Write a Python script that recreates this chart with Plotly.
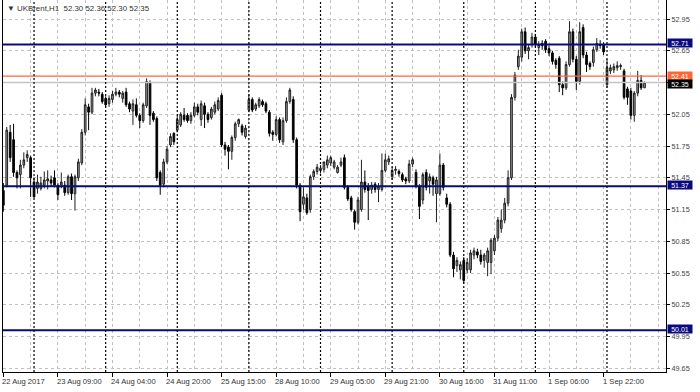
import plotly.graph_objects as go

# ---------------- data ----------------
OPEN = [
    51.33, 51.38, 51.88, 51.81, 51.50, 51.48, 51.57, 51.64, 51.64,
    51.41, 51.35, 51.35, 51.38, 51.42, 51.43, 51.45, 51.38, 51.38, 51.38, 51.31, 51.46, 51.30, 51.45, 51.59, 51.88, 52.12, 52.07, 52.25, 52.26, 52.24,
    52.20, 52.15, 52.19, 52.24, 52.26, 52.20, 52.26, 52.15, 52.08, 52.14, 52.04, 51.99, 52.13, 52.35, 52.06, 52.01, 51.50, 51.39, 51.60, 51.76, 51.87,
    51.90, 51.95, 52.04, 52.04, 51.99, 52.04, 52.12, 52.00, 52.13, 52.05, 52.02, 52.07, 52.10, 52.23, 51.76, 51.74, 51.70, 51.83, 51.96, 51.94, 51.84,
    52.09, 52.19, 52.10, 52.13, 52.17, 52.15, 52.07, 51.88, 51.86, 52.00, 51.79, 51.99, 52.17, 52.19, 51.81, 51.38, 51.20, 51.26, 51.15, 51.46, 51.51,
    51.52, 51.53, 51.57, 51.59, 51.55, 51.50, 51.57, 51.64, 51.36, 51.26, 51.13, 51.03, 51.15, 51.41, 51.37, 51.34, 51.39, 51.34, 51.34, 51.52, 51.60,
    51.46, 51.52, 51.51, 51.48, 51.44, 51.42, 51.58, 51.50, 51.37, 51.24, 51.50, 51.42, 51.45, 51.30, 51.30, 51.57, 51.26, 51.20, 50.72, 50.62, 50.58,
    50.67, 50.58, 50.58, 50.72, 50.75, 50.72, 50.67, 50.65, 50.65, 50.76, 50.88, 50.97, 51.05, 51.21, 51.45, 52.21, 52.50, 52.59, 52.83, 52.65, 52.71,
    52.78, 52.68, 52.72, 52.74, 52.67, 52.63, 52.56, 52.58, 52.33, 52.30, 52.52, 52.83, 52.57, 52.36, 52.87, 52.61, 52.53, 52.54, 52.66, 52.71, 52.71,
    52.33, 52.46, 52.47, 52.49, 52.50, 52.46, 52.29, 52.27, 52.04, 52.25, 52.37, 52.30,
]
HIGH = [
    51.40, 51.93, 51.95, 51.96, 51.52, 51.62, 51.69, 51.71, 51.66,
    51.45, 51.48, 51.46, 51.51, 51.52, 51.47, 51.52, 51.40, 51.50, 51.42, 51.48, 51.49, 51.48, 51.63, 51.91, 52.20, 52.15, 52.30, 52.30, 52.29, 52.26,
    52.22, 52.23, 52.27, 52.30, 52.28, 52.27, 52.30, 52.17, 52.19, 52.20, 52.06, 52.16, 52.39, 52.37, 52.08, 52.03, 51.52, 51.63, 51.75, 51.87, 51.88,
    52.04, 52.07, 52.11, 52.06, 52.07, 52.16, 52.15, 52.18, 52.16, 52.07, 52.12, 52.17, 52.21, 52.25, 51.79, 51.76, 51.85, 51.98, 52.01, 51.96, 51.95,
    52.24, 52.21, 52.16, 52.21, 52.19, 52.17, 52.09, 51.90, 52.03, 52.02, 52.02, 52.21, 52.30, 52.22, 51.83, 51.40, 51.36, 51.30, 51.48, 51.53, 51.58,
    51.57, 51.59, 51.66, 51.66, 51.62, 51.57, 51.64, 51.67, 51.38, 51.28, 51.15, 51.27, 51.62, 51.52, 51.40, 51.41, 51.41, 51.40, 51.68, 51.68, 51.66,
    51.55, 51.56, 51.53, 51.50, 51.46, 51.62, 51.64, 51.53, 51.39, 51.50, 51.53, 51.49, 51.47, 51.46, 51.68, 51.59, 51.30, 51.22, 50.75, 50.70, 50.66,
    50.70, 50.69, 50.77, 50.79, 50.78, 50.77, 50.74, 50.79, 50.88, 50.91, 51.08, 51.15, 51.26, 51.52, 52.24, 52.45, 52.66, 52.86, 52.87, 52.71, 52.82,
    52.81, 52.74, 52.75, 52.76, 52.70, 52.65, 52.58, 52.60, 52.36, 52.55, 52.93, 52.86, 52.60, 52.92, 52.90, 52.64, 52.55, 52.69, 52.77, 52.75, 52.73,
    52.57, 52.52, 52.53, 52.55, 52.53, 52.48, 52.31, 52.30, 52.27, 52.46, 52.42, 52.36,
]
LOW = [
    51.13, 51.36, 51.60, 51.46, 51.35, 51.35, 51.54, 51.60, 51.27,
    51.26, 51.30, 51.33, 51.35, 51.34, 51.37, 51.36, 51.24, 51.35, 51.28, 51.29, 51.24, 51.14, 51.42, 51.57, 51.85, 51.90, 52.05, 52.22, 52.22, 52.15,
    52.12, 52.12, 52.16, 52.22, 52.21, 52.16, 52.12, 52.07, 51.95, 52.02, 51.92, 51.97, 52.11, 51.95, 51.98, 51.42, 51.29, 51.36, 51.58, 51.74, 51.76,
    51.88, 51.93, 51.98, 51.97, 51.96, 52.02, 52.04, 51.94, 51.92, 51.97, 52.00, 52.05, 52.08, 51.74, 51.66, 51.53, 51.62, 51.80, 51.93, 51.85, 51.82,
    52.07, 52.07, 52.08, 52.11, 52.12, 52.06, 51.84, 51.80, 51.84, 51.78, 51.76, 51.97, 52.15, 51.78, 51.35, 51.04, 51.15, 51.10, 51.12, 51.43, 51.48,
    51.49, 51.50, 51.54, 51.56, 51.53, 51.49, 51.55, 51.34, 51.23, 51.13, 50.96, 51.01, 51.13, 51.31, 51.05, 51.30, 51.31, 51.22, 51.32, 51.50, 51.57,
    51.43, 51.48, 51.46, 51.41, 51.39, 51.40, 51.55, 51.35, 51.06, 51.20, 51.33, 51.30, 51.28, 51.03, 51.28, 51.33, 51.17, 50.70, 50.51, 50.56, 50.49,
    50.45, 50.55, 50.55, 50.68, 50.69, 50.63, 50.60, 50.52, 50.54, 50.72, 50.85, 50.93, 51.02, 51.18, 51.43, 52.18, 52.47, 52.55, 52.62, 52.57, 52.68,
    52.68, 52.61, 52.66, 52.63, 52.60, 52.52, 52.48, 52.26, 52.23, 52.28, 52.50, 52.54, 52.28, 52.33, 52.58, 52.45, 52.47, 52.50, 52.64, 52.67, 52.61,
    52.30, 52.43, 52.44, 52.46, 52.47, 52.19, 52.14, 52.00, 51.98, 52.22, 52.28, 52.30,
]
CLOSE = [
    51.19, 51.90, 51.64, 51.50, 51.45, 51.57, 51.62, 51.67, 51.45,
    51.27, 51.41, 51.40, 51.43, 51.44, 51.40, 51.38, 51.29, 51.41, 51.31, 51.46, 51.30, 51.46, 51.60, 51.88, 52.14, 52.07, 52.25, 52.28, 52.25, 52.17,
    52.14, 52.20, 52.24, 52.26, 52.24, 52.25, 52.14, 52.10, 52.15, 52.04, 51.99, 52.14, 52.36, 52.04, 52.00, 51.45, 51.38, 51.60, 51.72, 51.84, 51.79,
    52.00, 52.05, 52.00, 51.99, 52.04, 52.12, 52.07, 52.15, 52.05, 52.00, 52.10, 52.14, 52.18, 51.76, 51.72, 51.70, 51.83, 51.96, 52.00, 51.88, 51.92,
    52.19, 52.09, 52.14, 52.19, 52.14, 52.08, 51.87, 51.86, 52.00, 51.81, 51.99, 52.17, 52.28, 51.81, 51.38, 51.13, 51.27, 51.12, 51.46, 51.51, 51.55,
    51.54, 51.60, 51.62, 51.64, 51.60, 51.55, 51.60, 51.36, 51.25, 51.15, 51.03, 51.24, 51.41, 51.34, 51.33, 51.38, 51.34, 51.37, 51.52, 51.62, 51.63,
    51.52, 51.53, 51.49, 51.43, 51.42, 51.58, 51.62, 51.37, 51.18, 51.48, 51.36, 51.46, 51.39, 51.43, 51.57, 51.36, 51.20, 50.72, 50.59, 50.67, 50.63,
    50.48, 50.65, 50.74, 50.76, 50.72, 50.66, 50.72, 50.76, 50.86, 50.88, 51.05, 51.05, 51.21, 51.45, 52.21, 52.42, 52.60, 52.83, 52.65, 52.68, 52.78,
    52.71, 52.71, 52.70, 52.66, 52.63, 52.55, 52.52, 52.33, 52.30, 52.52, 52.83, 52.57, 52.36, 52.83, 52.61, 52.52, 52.50, 52.66, 52.72, 52.70, 52.64,
    52.49, 52.49, 52.50, 52.51, 52.51, 52.21, 52.21, 52.04, 52.25, 52.37, 52.30, 52.35,
]

TIME_TICK_POS = [0, 16, 32, 48, 64, 80, 96, 112, 128, 144, 160, 176]
TIME_TICK_TXT = ["22 Aug 2017", "23 Aug 09:00", "24 Aug 04:00", "24 Aug 20:00",
                 "25 Aug 15:00", "28 Aug 10:00", "29 Aug 05:00", "29 Aug 21:00",
                 "30 Aug 16:00", "31 Aug 11:00", "1 Sep 06:00", "1 Sep 22:00"]
DAY_STARTS = [9, 30, 51, 72, 93, 114, 135, 156, 177]
PRICE_TICKS = [49.65, 49.95, 50.25, 50.55, 50.85, 51.15, 51.45, 51.75, 52.05, 52.35, 52.65, 52.95]

NAVY_LEVELS = [52.71, 51.37, 50.01]
ORANGE_LEVEL = 52.41
BID = 52.35
SYMBOL = "UKBrent,H1"

# ---------------- figure ----------------
NAVY = "#0a0a80"
ORANGE = "#ff6633"
FONT = "Liberation Sans, Arial, sans-serif"

xs = list(range(len(CLOSE)))

fig = go.Figure(go.Candlestick(
    x=xs, open=OPEN, high=HIGH, low=LOW, close=CLOSE,
    increasing=dict(line=dict(color="#202020", width=1), fillcolor="#9c9c9c"),
    decreasing=dict(line=dict(color="black", width=1), fillcolor="black"),
    whiskerwidth=0, hoverinfo="skip",
))

shapes = []
shapes.append(dict(type="line", xref="paper", x0=0, x1=1, yref="y", y0=BID, y1=BID,
                   line=dict(color="#c4c4c4", width=1.5), layer="above"))
shapes.append(dict(type="line", xref="paper", x0=0, x1=1, yref="y", y0=ORANGE_LEVEL, y1=ORANGE_LEVEL,
                   line=dict(color=ORANGE, width=1.2), layer="above"))
for lv in NAVY_LEVELS:
    shapes.append(dict(type="line", xref="paper", x0=0, x1=1, yref="y", y0=lv, y1=lv,
                       line=dict(color=NAVY, width=2), layer="above"))
for d in DAY_STARTS:
    shapes.append(dict(type="line", xref="x", x0=d, x1=d, yref="paper", y0=0, y1=1,
                       line=dict(color="black", width=1.2, dash="2px,2px"), layer="above"))

annotations = []
for p, t in zip(TIME_TICK_POS, TIME_TICK_TXT):
    annotations.append(dict(x=p, xref="x", y=0, yref="paper", yanchor="top", xanchor="left",
                            yshift=-3, xshift=-3, text=t, showarrow=False,
                            font=dict(family=FONT, size=7.6, color="#333333")))

def price_box(val, bg, yshift=0):
    return dict(x=1, xref="paper", y=val, yref="y", xanchor="left", yanchor="middle",
                xshift=1, yshift=yshift, text=f"{val:.2f}", showarrow=False,
                bgcolor=bg, borderpad=0, width=24, height=8,
                font=dict(family=FONT, size=7.0, color="white"))

for lv in NAVY_LEVELS:
    annotations.append(price_box(lv, NAVY, 1))
annotations.append(price_box(ORANGE_LEVEL, ORANGE, 0.5))
annotations.append(price_box(BID, "black", -1.5))

hdr = f"\u25BC {SYMBOL}\u00a0\u00a0{OPEN[-1]:.2f} {HIGH[-1]:.2f} {LOW[-1]:.2f} {CLOSE[-1]:.2f}"
annotations.append(dict(x=0.003, xref="paper", y=1, yref="paper", xanchor="left", yanchor="top",
                        yshift=-2, text=hdr, showarrow=False,
                        font=dict(family=FONT, size=7.9, color="#333333")))

# the price-scale label hidden behind the bid box in the reference
tick_text = ["" if abs(v - BID) < 1e-9 else f"{v:.2f}" for v in PRICE_TICKS]

fig.update_layout(
    width=700, height=392,
    margin=dict(l=3, r=34, t=0, b=20),
    paper_bgcolor="white", plot_bgcolor="white",
    showlegend=False,
    font=dict(family=FONT, size=7.6, color="#333333"),
    shapes=shapes, annotations=annotations,
    xaxis=dict(
        range=[-0.1, 194.3], rangeslider=dict(visible=False),
        tickmode="array", tickvals=TIME_TICK_POS, showticklabels=False,
        ticks="outside", ticklen=4, tickcolor="black", tickwidth=1,
        showgrid=True, gridcolor="#c0c0c0", griddash="dot", gridwidth=1,
        minor=dict(tickmode="linear", tick0=0, dtick=8, showgrid=True,
                   gridcolor="#c0c0c0", griddash="dot", gridwidth=1, ticks=""),
        showline=True, linecolor="black", linewidth=1, mirror=True, zeroline=False,
    ),
    yaxis=dict(
        side="right", range=[49.615, 53.13],
        tickmode="array", tickvals=PRICE_TICKS, ticktext=tick_text,
        ticks="outside", ticklen=3, tickcolor="black",
        tickfont=dict(family=FONT, size=7.3, color="#444444"),
        showgrid=True, gridcolor="#c0c0c0", griddash="dot", gridwidth=1,
        showline=True, linecolor="black", linewidth=1, mirror=True, zeroline=False,
    ),
)

fig.write_html("out.html")
